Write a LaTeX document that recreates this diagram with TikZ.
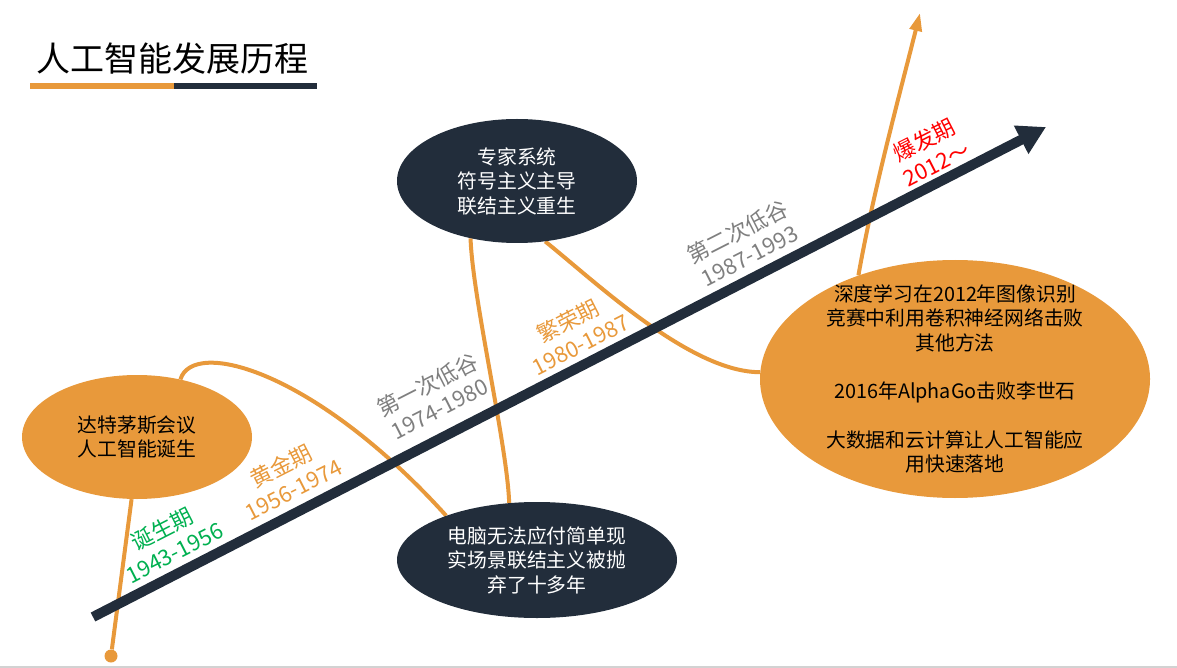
\documentclass[tikz,border=0pt]{standalone}
\usepackage{fontspec}
\setmainfont{Noto Sans CJK SC}
\usepackage{xcolor}
\usetikzlibrary{arrows.meta,positioning,shapes.geometric,backgrounds}
\definecolor{aiorange}{HTML}{E8993B}
\definecolor{ainavy}{HTML}{222D3B}
\definecolor{aigray}{HTML}{7F7F7F}
\definecolor{aigreen}{HTML}{00B050}

\begin{document}
\begin{tikzpicture}[x=1pt, y=-1pt, every node/.style={font=\fontsize{19.8}{24.5}\selectfont}, bubble/.style={ellipse,fill=aiorange,align=center,inner sep=-25pt}, darkbubble/.style={bubble,fill=ainavy,text=white}, era/.style={rotate=27,align=center,font=\fontsize{22}{27}\selectfont}, curve/.style={aiorange,line width=4pt}, timeline/.style={ainavy,line width=10pt,-{Triangle[length=28pt,width=30pt]}}]
\useasboundingbox (0,0) rectangle (1177,668);
\draw[gray!35, line width=1.5pt] (0,667) -- (1177,667);
% title
\node[anchor=west, inner sep=0pt, font=\fontsize{34}{40}\selectfont] (title) at (36,59) {人工智能发展历程};
\draw[aiorange, line width=6pt] (30,86) -- (174,86);
\draw[ainavy, line width=6pt] (174,86) -- (317,86);
% bubbles
\node[bubble, minimum width=230pt, minimum height=124pt] (dartmouth) at (137,437) {达特茅斯会议\\人工智能诞生};
\node[darkbubble, minimum width=240pt, minimum height=124pt] (expert) at (517,181) {专家系统\\符号主义主导\\联结主义重生};
\node[darkbubble, minimum width=280pt, minimum height=116pt] (abandon) at (537,560) {电脑无法应付简单现\\实场景联结主义被抛\\弃了十多年};
\node[bubble, minimum width=390pt, minimum height=238pt] (deep) at (955,379) {深度学习在2012年图像识别\\竞赛中利用卷积神经网络击败\\其他方法\\[24pt]2016年AlphaGo击败李世石\\[24pt]大数据和云计算让人工智能应\\用快速落地};
\node[circle, fill=aiorange, minimum size=13pt, inner sep=0pt] (start) at (111,656) {};
\coordinate (boomtip) at (920,13);
\coordinate (tstart) at (93,617);
\coordinate (tend) at (1046,127);
% orange path behind the bubbles
\begin{scope}[on background layer]
\draw[curve] (start) -- (dartmouth.-95);
\draw[curve] (dartmouth.53) .. controls +(13,-42) and +(-130,-144) .. (abandon.154);
\draw[curve] (abandon.116) .. controls +(-2,-58) and +(2,60) .. (expert.-129);
\draw[curve] (expert.-65) .. controls +(50,40) and +(-70,0) .. (deep.178);
\draw[curve, -{Triangle[length=18pt,width=12pt]}] (deep.133) .. controls +(15,-85) and +(-20,80) .. (boomtip);
\end{scope}
\draw[timeline] (tstart) -- (tend);
% eras
\node[era, text=aigreen] (birth) at (168,540) {诞生期\\1943-1956};
\node[era, text=aiorange] (golden) at (287,477) {黄金期\\1956-1974};
\node[era, text=aigray] (winter1) at (433,396) {第一次低谷\\1974-1980};
\node[era, text=aiorange] (boom) at (574,332) {繁荣期\\1980-1987};
\node[era, text=aigray] (winter2) at (743,243) {第二次低谷\\1987-1993};
\node[era, text=red] (burst) at (930,151) {爆发期\\2012～};
\end{tikzpicture}
\end{document}
